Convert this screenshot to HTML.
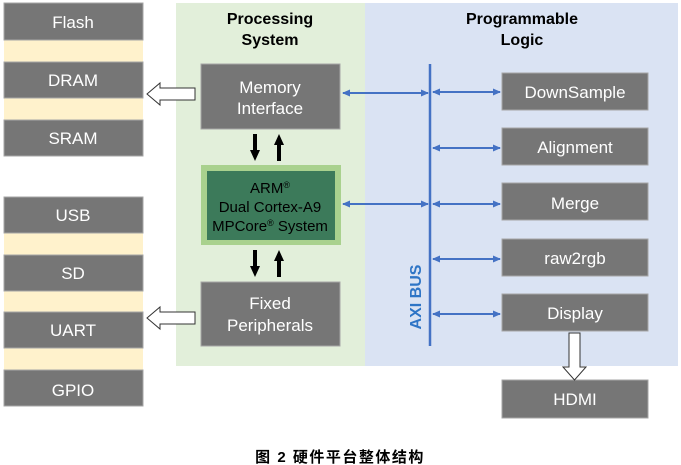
<!DOCTYPE html>
<html><head><meta charset="utf-8"><style>
html,body{margin:0;padding:0;background:#fff;}
svg{display:block;font-family:"Liberation Sans",Arial,sans-serif;}
</style></head><body>
<svg width="681" height="465" viewBox="0 0 681 465" xmlns="http://www.w3.org/2000/svg">
<defs>
<marker id="ah" markerWidth="8" markerHeight="8" refX="7" refY="4" orient="auto-start-reverse" markerUnits="userSpaceOnUse"><path d="M0,0.5 L8,4 L0,7.5 Z" fill="#4472C4"/></marker>
</defs>
<rect x="4" y="3" width="139" height="153" fill="#FFF2CC"/>
<rect x="4" y="197" width="139" height="209" fill="#FFF2CC"/>
<rect x="176" y="3" width="189" height="363" fill="#E2EFDA"/>
<rect x="365" y="3" width="313" height="363" fill="#DAE3F3"/>
<g fill="#767676" stroke="#A6A6A6" stroke-width="1">
<rect x="4" y="3" width="139" height="37"/>
<rect x="4" y="62" width="139" height="36"/>
<rect x="4" y="120" width="139" height="36"/>
<rect x="4" y="197" width="139" height="36"/>
<rect x="4" y="255" width="139" height="36"/>
<rect x="4" y="312" width="139" height="36"/>
<rect x="4" y="370" width="139" height="36"/>
<rect x="201" y="64" width="139" height="65"/>
<rect x="201" y="282" width="139" height="64"/>
<rect x="502" y="73" width="146" height="37"/>
<rect x="502" y="128" width="146" height="37"/>
<rect x="502" y="183" width="146" height="37"/>
<rect x="502" y="239" width="146" height="37"/>
<rect x="502" y="294" width="146" height="37"/>
<rect x="502" y="380" width="146" height="38"/>
</g>
<rect x="201" y="165" width="140" height="80" fill="#A9D18E"/>
<rect x="207" y="171" width="128" height="69" fill="#3C7A5A"/>
<g fill="#fff" font-size="17" text-anchor="middle">
<text x="73" y="28">Flash</text>
<text x="73" y="86">DRAM</text>
<text x="73" y="144">SRAM</text>
<text x="73" y="221">USB</text>
<text x="73" y="279">SD</text>
<text x="73" y="336">UART</text>
<text x="73" y="396">GPIO</text>
<text x="270" y="93">Memory</text>
<text x="270" y="114">Interface</text>
<text x="270" y="309">Fixed</text>
<text x="270" y="331">Peripherals</text>
<text x="575" y="98">DownSample</text>
<text x="575" y="153">Alignment</text>
<text x="575" y="209">Merge</text>
<text x="575" y="264">raw2rgb</text>
<text x="575" y="319">Display</text>
<text x="575" y="405">HDMI</text>
</g>
<g fill="#000" font-size="15" text-anchor="middle">
<text x="270" y="193">ARM<tspan font-size="9" dy="-5">®</tspan></text>
<text x="270" y="212">Dual Cortex-A9</text>
<text x="270" y="231">MPCore<tspan font-size="9" dy="-5">®</tspan><tspan dy="5"> System</tspan></text>
</g>
<g font-weight="bold" font-size="16" text-anchor="middle" fill="#000">
<text x="270" y="24">Processing</text>
<text x="270" y="45">System</text>
<text x="522" y="24">Programmable</text>
<text x="522" y="45">Logic</text>
</g>
<path d="M195,88 L160,88 L160,83 L147,94 L160,105 L160,100 L195,100 Z" fill="#fff" stroke="#333" stroke-width="1"/>
<path d="M195,312 L160,312 L160,307 L147,318 L160,329 L160,324 L195,324 Z" fill="#fff" stroke="#333" stroke-width="1"/>
<path d="M569,333 L580,333 L580,367 L586,367 L574.5,380 L563,367 L569,367 Z" fill="#fff" stroke="#333" stroke-width="1"/>
<g fill="#000">
<path d="M253,134 L257,134 L257,150 L260,150 L255,161 L250,150 L253,150 Z"/>
<path d="M277,161 L281,161 L281,145 L284,145 L279,134 L274,145 L277,145 Z"/>
<path d="M253,250 L257,250 L257,266 L260,266 L255,277 L250,266 L253,266 Z"/>
<path d="M277,277 L281,277 L281,261 L284,261 L279,250 L274,261 L277,261 Z"/>
</g>
<line x1="430" y1="64" x2="430" y2="346" stroke="#4472C4" stroke-width="2.5"/>
<g stroke="#4472C4" stroke-width="2" fill="none">
<line x1="343" y1="93" x2="428" y2="93" marker-start="url(#ah)" marker-end="url(#ah)"/>
<line x1="343" y1="204" x2="428" y2="204" marker-start="url(#ah)" marker-end="url(#ah)"/>
<line x1="433" y1="92" x2="500" y2="92" marker-start="url(#ah)" marker-end="url(#ah)"/>
<line x1="433" y1="148" x2="500" y2="148" marker-start="url(#ah)" marker-end="url(#ah)"/>
<line x1="433" y1="204" x2="500" y2="204" marker-start="url(#ah)" marker-end="url(#ah)"/>
<line x1="433" y1="259" x2="500" y2="259" marker-start="url(#ah)" marker-end="url(#ah)"/>
<line x1="433" y1="314" x2="500" y2="314" marker-start="url(#ah)" marker-end="url(#ah)"/>
</g>
<text transform="translate(421,297) rotate(-90)" text-anchor="middle" font-weight="bold" font-size="16" fill="#2E75C6">AXI BUS</text>
<text x="340" y="462" text-anchor="middle" font-size="15" font-weight="bold" letter-spacing="1.5" fill="#000" font-family="'Liberation Sans','Noto Sans CJK SC',sans-serif">图 2 硬件平台整体结构</text>
</svg>
</body></html>
